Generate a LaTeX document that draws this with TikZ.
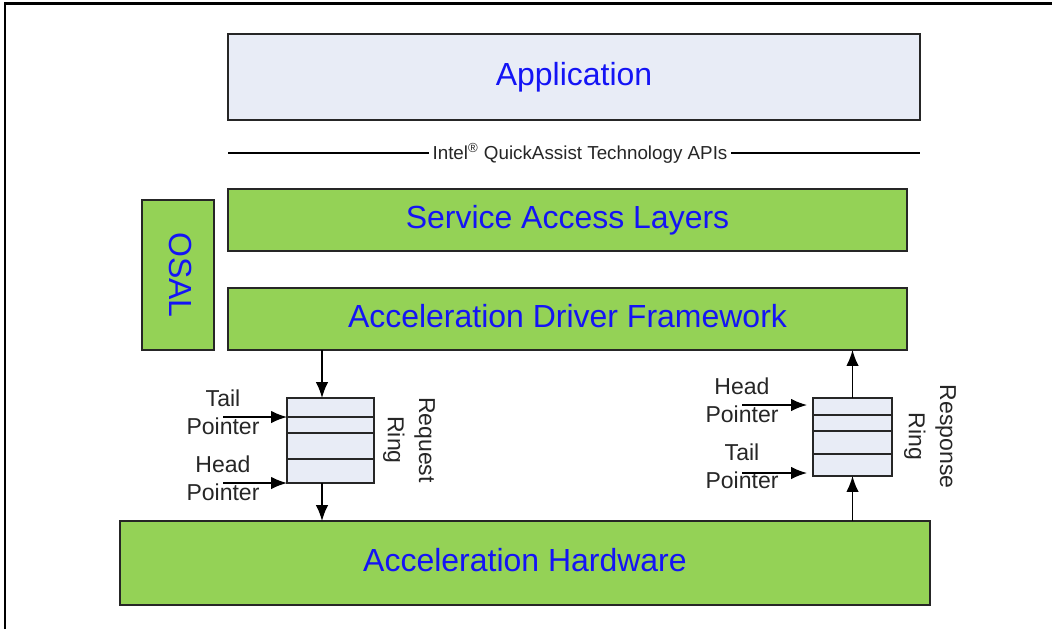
\documentclass[tikz,border=0pt]{standalone}
\usepackage{fontspec}
\setmainfont{Liberation Sans}
\usetikzlibrary{arrows.meta}
\definecolor{layergreen}{RGB}{148,210,86}
\definecolor{applav}{RGB}{232,236,246}
\definecolor{labelblue}{RGB}{20,20,245}

\begin{document}
\begin{tikzpicture}[
    layer/.style={rectangle, draw=black!85, line width=1pt, fill=layergreen, text=labelblue,
      font=\fontsize{18.2}{22}\selectfont, text height=13pt, text depth=2.8pt, inner sep=0pt, outer sep=0pt},
    cell/.style={rectangle, draw=black!85, line width=.9pt, fill=applav, inner sep=0pt, outer sep=0pt},
    ptr/.style={align=center, text=black!85, font=\fontsize{13.1}{15.7}\selectfont},
    arr/.style={-{Latex[length=9pt,width=7pt]}, line width=.8pt}
  ]

        \useasboundingbox (0,0) rectangle (21.04,-12.58);
        \draw[line width=1.7pt] (0.1,-12.58) -- (0.1,-0.07) -- (21.04,-0.07);

        \begin{scope}[every node/.style={layer}]
          \node[fill=applav, minimum width=13.84cm, minimum height=1.72cm] (app) at (11.48,-1.54) {Application};
          \node[minimum width=13.58cm, minimum height=1.24cm] (sal) at (11.35,-4.40) {Service Access Layers};
          \node[minimum width=13.58cm, minimum height=1.24cm] (adf) at (11.35,-6.38) {Acceleration Driver Framework};
          \node[rotate=-90, minimum width=3cm, minimum height=1.44cm] (osal) at (3.56,-5.50) {OSAL};
          \node[minimum width=16.2cm, minimum height=1.68cm] (hw) at (10.50,-11.26) {Acceleration Hardware};
        \end{scope}

        \node[font=\fontsize{10.7}{13}\selectfont, text=black!85, inner sep=2pt] (api) at (11.60,-3.06)
          {Intel\textsuperscript{\textregistered} QuickAssist Technology APIs};
        \draw[line width=.8pt] (app.west |- api) -- (api.west);
        \draw[line width=.8pt] (api.east) -- (app.east |- api);

        \begin{scope}[every node/.style={cell, minimum width=1.74cm}]
          \node[minimum height=.38cm] (rq1) at (6.61,-8.15) {};
          \node[minimum height=.32cm] (rq2) at (6.61,-8.50) {};
          \node[minimum height=.52cm] (rq3) at (6.61,-8.92) {};
          \node[minimum height=.48cm] (rq4) at (6.61,-9.42) {};
        \end{scope}

        \begin{scope}[every node/.style={cell, minimum width=1.58cm}]
          \node[minimum height=.34cm] (rs1) at (17.05,-8.13) {};
          \node[minimum height=.32cm] (rs2) at (17.05,-8.46) {};
          \node[minimum height=.46cm] (rs3) at (17.05,-8.85) {};
          \node[minimum height=.44cm] (rs4) at (17.05,-9.30) {};
        \end{scope}

        \begin{scope}[every node/.style={ptr}]
          \node (rqtail) at (4.46,-8.24) {Tail\\Pointer};
          \node (rqhead) at (4.46,-9.56) {Head\\Pointer};
          \node (rshead) at (14.84,-8.01) {Head\\Pointer};
          \node (rstail) at (14.84,-9.33) {Tail\\Pointer};
          \node[rotate=-90] (rqname) at (8.18,-8.80) {Request\\[2pt]Ring};
          \node[rotate=-90] (rsname) at (18.60,-8.73) {Response\\[2pt]Ring};
        \end{scope}

        \coordinate (rqx) at (6.44,0);
        \coordinate (rsh) at (16.14,-8.10);
        \coordinate (rst) at (16.14,-9.46);

        \draw[arr] (rqx |- adf.south) -- (rqx |- rq1.north);
        \draw[arr] (rqx |- rq4.south) -- (rqx |- hw.north);
        \draw[arr] (rs1.north) -- (rs1.north |- adf.south);
        \draw[arr] (rs4.south |- hw.north) -- (rs4.south);

        \draw[arr] (rqtail.center |- rq1.south west) -- (rq1.south west);
        \draw[arr] (rqhead.center |- rq4.south west) -- (rq4.south west);
        \draw[arr] (rshead.center |- rsh) -- (rsh);
        \draw[arr] (rstail.center |- rst) -- (rst);

      \end{tikzpicture}
\end{document}
